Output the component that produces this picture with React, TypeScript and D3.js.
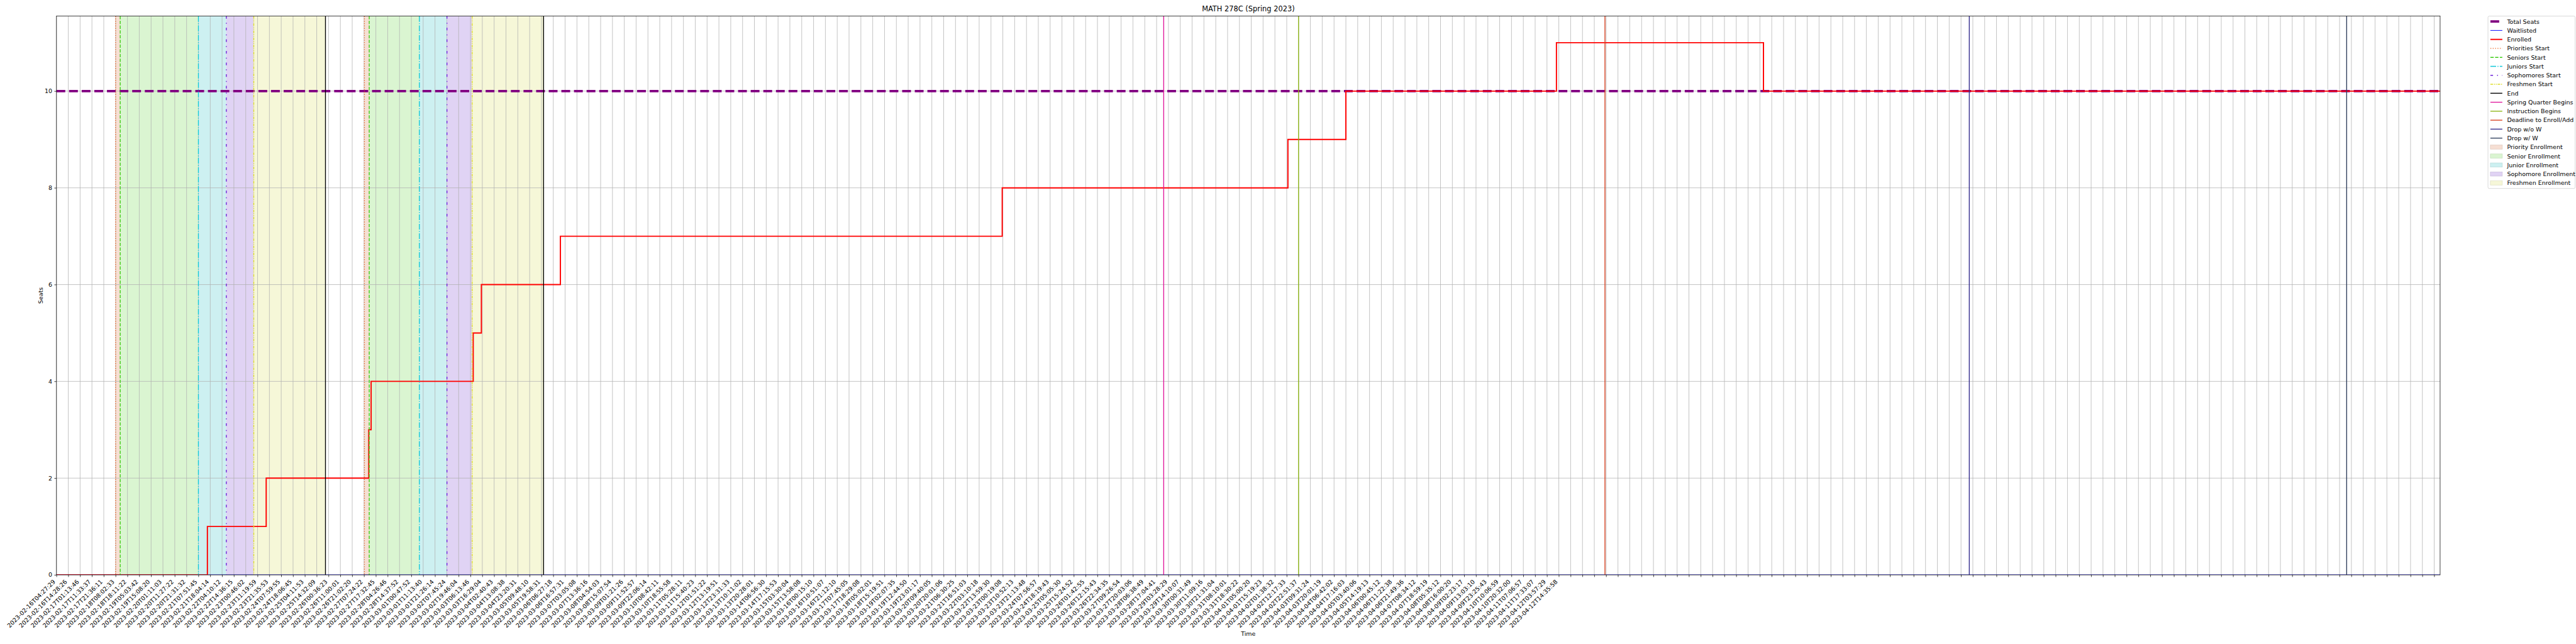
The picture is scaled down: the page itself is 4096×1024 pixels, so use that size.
import React, { useEffect, useRef } from 'react';
import * as d3 from 'd3';

// reference size; the svg viewBox scales it down to the window
const W = 6000;
const H = 1500;

const title = 'MATH 278C (Spring 2023)';

const tickLabels = [
  '2023-02-16T04:27:29', '2023-02-16T14:28:26', '2023-02-17T01:13:46', '2023-02-17T11:33:37',
  '2023-02-17T21:36:11', '2023-02-18T08:02:33', '2023-02-18T18:11:22', '2023-02-19T05:03:42',
  '2023-02-19T15:08:20', '2023-02-20T01:11:03', '2023-02-20T11:27:22', '2023-02-20T21:31:32',
  '2023-02-21T07:51:45', '2023-02-21T18:04:14', '2023-02-22T04:10:12', '2023-02-22T14:36:15',
  '2023-02-23T00:46:02', '2023-02-23T11:19:59', '2023-02-23T21:35:53', '2023-02-24T07:59:55',
  '2023-02-24T18:06:45', '2023-02-25T04:11:53', '2023-02-25T14:32:09', '2023-02-26T00:36:23',
  '2023-02-26T11:00:01', '2023-02-26T21:02:20', '2023-02-27T07:24:22', '2023-02-27T17:32:45',
  '2023-02-28T04:26:46', '2023-02-28T14:37:52', '2023-03-01T00:47:52', '2023-03-01T11:13:40',
  '2023-03-01T21:26:14', '2023-03-02T07:45:24', '2023-03-02T19:46:04', '2023-03-03T06:13:46',
  '2023-03-03T16:29:04', '2023-03-04T02:40:43', '2023-03-04T13:08:38', '2023-03-04T23:20:31',
  '2023-03-05T09:48:10', '2023-03-05T19:58:31', '2023-03-06T06:27:18', '2023-03-06T16:57:31',
  '2023-03-07T03:05:08', '2023-03-07T13:36:16', '2023-03-08T04:54:03', '2023-03-08T15:07:54',
  '2023-03-09T01:21:26', '2023-03-09T11:52:57', '2023-03-09T22:06:14', '2023-03-10T08:42:11',
  '2023-03-10T18:55:58', '2023-03-11T05:28:11', '2023-03-11T15:40:23', '2023-03-12T01:51:22',
  '2023-03-12T13:19:51', '2023-03-12T23:31:33', '2023-03-13T10:11:02', '2023-03-13T20:28:01',
  '2023-03-14T06:56:30', '2023-03-14T17:15:53', '2023-03-15T03:30:04', '2023-03-15T13:58:08',
  '2023-03-16T00:15:10', '2023-03-16T10:51:07', '2023-03-16T21:12:10', '2023-03-17T07:45:05',
  '2023-03-17T18:29:08', '2023-03-18T05:02:01', '2023-03-18T15:19:51', '2023-03-19T02:07:35',
  '2023-03-19T12:44:50', '2023-03-19T23:01:17', '2023-03-20T09:40:05', '2023-03-20T20:01:06',
  '2023-03-21T06:30:25', '2023-03-21T16:51:03', '2023-03-22T03:10:18', '2023-03-22T13:59:30',
  '2023-03-23T00:19:08', '2023-03-23T10:52:13', '2023-03-23T21:13:48', '2023-03-24T07:56:57',
  '2023-03-24T18:19:43', '2023-03-25T05:05:30', '2023-03-25T15:24:52', '2023-03-26T01:42:55',
  '2023-03-26T12:15:43', '2023-03-26T22:34:35', '2023-03-27T09:26:54', '2023-03-27T20:03:06',
  '2023-03-28T06:38:49', '2023-03-28T17:04:41', '2023-03-29T03:28:29', '2023-03-29T14:10:07',
  '2023-03-30T00:31:49', '2023-03-30T11:09:16', '2023-03-30T21:31:04', '2023-03-31T08:10:01',
  '2023-03-31T18:30:22', '2023-04-01T05:00:20', '2023-04-01T15:19:23', '2023-04-02T01:38:32',
  '2023-04-02T12:17:33', '2023-04-02T22:51:37', '2023-04-03T09:31:24', '2023-04-03T20:01:19',
  '2023-04-04T06:42:02', '2023-04-04T17:16:03', '2023-04-05T03:40:06', '2023-04-05T14:19:13',
  '2023-04-06T00:45:12', '2023-04-06T11:22:38', '2023-04-06T21:49:36', '2023-04-07T08:34:12',
  '2023-04-07T18:59:19', '2023-04-08T05:35:12', '2023-04-08T16:00:20', '2023-04-09T02:23:17',
  '2023-04-09T13:03:10', '2023-04-09T23:25:43', '2023-04-10T10:06:59', '2023-04-10T20:32:00',
  '2023-04-11T07:06:57', '2023-04-11T17:33:07', '2023-04-12T03:57:29', '2023-04-12T14:35:58',
];
const tickCount = 202;
const xEnd = 201.5;

const yTicks = [0, 2, 4, 6, 8, 10];
const yMax = 11.55;

// positions are in tick units (one unit = one labelled tick)
const totalSeats = 10;
const enrolledX = [0, 12.76, 17.73, 26.4, 26.6, 35.23, 35.92, 42.6, 79.95, 104.1, 109.0, 126.8, 144.3, 201.5];
const enrolledY = [0, 1, 2, 3, 4, 5, 6, 7, 8, 9, 10, 11, 10, 10];
const waitlistX = [0, 201.5];
const waitlistY = [0, 0];

const phaseNames = ['Priorities Start', 'Seniors Start', 'Juniors Start', 'Sophomores Start', 'Freshmen Start', 'End'];
const firstPass = [5.0, 5.39, 12.0, 14.36, 16.68, 22.74];
const secondPass = [26.03, 26.44, 30.68, 33.01, 35.14, 41.18];

const termNames = ['Spring Quarter Begins', 'Instruction Begins', 'Deadline to Enroll/Add', 'Drop w/o W', 'Drop w/ W'];
const termX = [93.6, 105.0, 130.9, 161.7, 193.6];

const spanNames = ['Priority Enrollment', 'Senior Enrollment', 'Junior Enrollment', 'Sophomore Enrollment', 'Freshmen Enrollment'];

const phaseStyle = [
  { color: '#f06a2a', dash: '2.1,3.4' },
  { color: '#3ccc14', dash: '7.7,3.3' },
  { color: '#11c8d8', dash: '13.3,3.3,2.1,3.3' },
  { color: '#6c1fd9', dash: '6.2,9.4,2.1,9.4' },
  { color: '#dede2c', dash: '6.2,2.1,2.1,2.1,2.1,2.1' },
  { color: '#000000', dash: null },
];
const termColors = ['#e0179b', '#8db514', '#d9401f', '#332b8c', '#2f3d5c'];
const spanColors = ['#f6dfd3', '#daf5d1', '#cdf0f1', '#e0d3f4', '#f6f7d8'];

const FONT = 'DejaVu Sans, sans-serif';

const drawChart = (el) => {
  const svg = d3.select(el);
  svg.selectAll('*').remove();

  const left = 131.5;
  const right = 5683.5;
  const top = 37.5;
  const bottom = 1339;

  const x = d3.scaleLinear().domain([0, xEnd]).range([left, right]);
  const y = d3.scaleLinear().domain([0, yMax]).range([bottom, top]);

  svg.append('rect').attr('width', W).attr('height', H).attr('fill', '#fff');

  svg.append('clipPath').attr('id', 'plot-clip')
    .append('rect')
    .attr('x', left).attr('y', top)
    .attr('width', right - left).attr('height', bottom - top);

  const plot = svg.append('g').attr('clip-path', 'url(#plot-clip)');

  // enrolment windows
  [firstPass, secondPass].forEach(pass => {
    spanColors.forEach((c, i) => {
      plot.append('rect')
        .attr('x', x(pass[i]))
        .attr('y', top)
        .attr('width', x(pass[i + 1]) - x(pass[i]))
        .attr('height', bottom - top)
        .attr('fill', c);
    });
  });

  // grid
  const ticks = d3.range(tickCount);
  plot.selectAll('.vgrid').data(ticks).enter().append('line')
    .attr('x1', d => x(d)).attr('x2', d => x(d))
    .attr('y1', top).attr('y2', bottom)
    .attr('stroke', '#b0b0b0').attr('stroke-width', 1.1);
  plot.selectAll('.hgrid').data(yTicks).enter().append('line')
    .attr('x1', left).attr('x2', right)
    .attr('y1', d => y(d)).attr('y2', d => y(d))
    .attr('stroke', '#b0b0b0').attr('stroke-width', 1.1);

  const step = d3.line().x(d => x(d[0])).y(d => y(d[1])).curve(d3.curveStepAfter);

  plot.append('path')
    .attr('d', step([[0, totalSeats], [xEnd, totalSeats]]))
    .attr('fill', 'none').attr('stroke', '#800080')
    .attr('stroke-width', 5.6).attr('stroke-dasharray', '20.5,8.9');

  plot.append('path')
    .attr('d', step(waitlistX.map((v, i) => [v, waitlistY[i]])))
    .attr('fill', 'none').attr('stroke', '#0000ff').attr('stroke-width', 1.4);

  plot.append('path')
    .attr('d', step(enrolledX.map((v, i) => [v, enrolledY[i]])))
    .attr('fill', 'none').attr('stroke', '#ff0000').attr('stroke-width', 2.8);

  // event lines
  [firstPass, secondPass].forEach(pass => {
    pass.forEach((v, i) => {
      plot.append('line')
        .attr('x1', x(v)).attr('x2', x(v))
        .attr('y1', top).attr('y2', bottom)
        .attr('stroke', phaseStyle[i].color).attr('stroke-width', 2)
        .attr('stroke-dasharray', phaseStyle[i].dash);
    });
  });
  termX.forEach((v, i) => {
    plot.append('line')
      .attr('x1', x(v)).attr('x2', x(v))
      .attr('y1', top).attr('y2', bottom)
      .attr('stroke', termColors[i]).attr('stroke-width', 2);
  });

  // axes
  const xAxis = d3.axisBottom(x)
    .tickValues(ticks)
    .tickFormat(i => tickLabels[i] || '')
    .tickSize(4.9)
    .tickSizeOuter(0);
  const gx = svg.append('g')
    .attr('transform', `translate(0,${bottom})`)
    .call(xAxis);
  gx.select('.domain').remove();
  gx.selectAll('line').attr('stroke', '#000').attr('stroke-width', 1.1);
  gx.selectAll('text')
    .attr('x', 0).attr('y', 0).attr('dy', null)
    .attr('transform', 'translate(-2.3,17) rotate(-45)')
    .attr('text-anchor', 'end')
    .attr('font-family', FONT).attr('font-size', 13.9).attr('fill', '#000');

  const yAxis = d3.axisLeft(y).tickValues(yTicks).tickSize(4.9).tickPadding(4.9).tickSizeOuter(0);
  const gy = svg.append('g')
    .attr('transform', `translate(${left},0)`)
    .call(yAxis);
  gy.select('.domain').remove();
  gy.selectAll('line').attr('stroke', '#000').attr('stroke-width', 1.1);
  gy.selectAll('text')
    .attr('font-family', FONT).attr('font-size', 13.9).attr('fill', '#000');

  svg.append('rect')
    .attr('x', left).attr('y', top)
    .attr('width', right - left).attr('height', bottom - top)
    .attr('fill', 'none').attr('stroke', '#000').attr('stroke-width', 1.1);

  svg.append('text')
    .attr('x', (left + right) / 2).attr('y', 27)
    .attr('text-anchor', 'middle')
    .attr('font-family', FONT).attr('font-size', 16.7)
    .text(title);

  svg.append('text')
    .attr('x', (left + right) / 2).attr('y', 1481)
    .attr('text-anchor', 'middle')
    .attr('font-family', FONT).attr('font-size', 13.9)
    .text('Time');

  svg.append('text')
    .attr('transform', `translate(100,${(top + bottom) / 2}) rotate(-90)`)
    .attr('text-anchor', 'middle')
    .attr('font-family', FONT).attr('font-size', 13.9)
    .text('Seats');

  // legend
  const items = [
    { label: 'Total Seats', kind: 'line', color: '#800080', width: 5.6, dash: '20.5,8.9' },
    { label: 'Waitlisted', kind: 'line', color: '#0000ff', width: 1.4, dash: null },
    { label: 'Enrolled', kind: 'line', color: '#ff0000', width: 2.8, dash: null },
    ...phaseNames.map((n, i) => ({ label: n, kind: 'line', color: phaseStyle[i].color, width: 2, dash: phaseStyle[i].dash })),
    ...termNames.map((n, i) => ({ label: n, kind: 'line', color: termColors[i], width: 2, dash: null })),
    ...spanNames.map((n, i) => ({ label: n, kind: 'patch', color: spanColors[i], width: 0, dash: null })),
  ];

  const lx = 5795;
  const ly = top;
  const rowH = 20.9;
  const lg = svg.append('g');
  lg.append('rect')
    .attr('x', lx).attr('y', ly)
    .attr('width', 203).attr('height', 401.5)
    .attr('rx', 3)
    .attr('fill', '#fff').attr('fill-opacity', 0.8)
    .attr('stroke', '#cccccc').attr('stroke-width', 1.1);

  items.forEach((it, i) => {
    const cy = ly + 12.5 + i * rowH;
    if (it.kind === 'line') {
      lg.append('line')
        .attr('x1', lx + 5.6).attr('x2', lx + 33.4)
        .attr('y1', cy).attr('y2', cy)
        .attr('stroke', it.color).attr('stroke-width', it.width)
        .attr('stroke-dasharray', it.dash);
    } else {
      lg.append('rect')
        .attr('x', lx + 5.6).attr('y', cy - 4.9)
        .attr('width', 27.8).attr('height', 9.7)
        .attr('fill', it.color)
        .attr('stroke', d3.color(it.color).darker(0.3)).attr('stroke-width', 1);
    }
    lg.append('text')
      .attr('x', lx + 44.5).attr('y', cy + 5)
      .attr('font-family', FONT).attr('font-size', 13.9)
      .text(it.label);
  });
};

const App = () => {
  const ref = useRef(null);
  useEffect(() => {
    drawChart(ref.current);
  }, []);
  return (
    <svg
      ref={ref}
      width={4096}
      height={1024}
      viewBox={`0 0 ${W} ${H}`}
      style={{ position: 'absolute', left: 0, top: 0, display: 'block' }}
    />
  );
};

export default App;
